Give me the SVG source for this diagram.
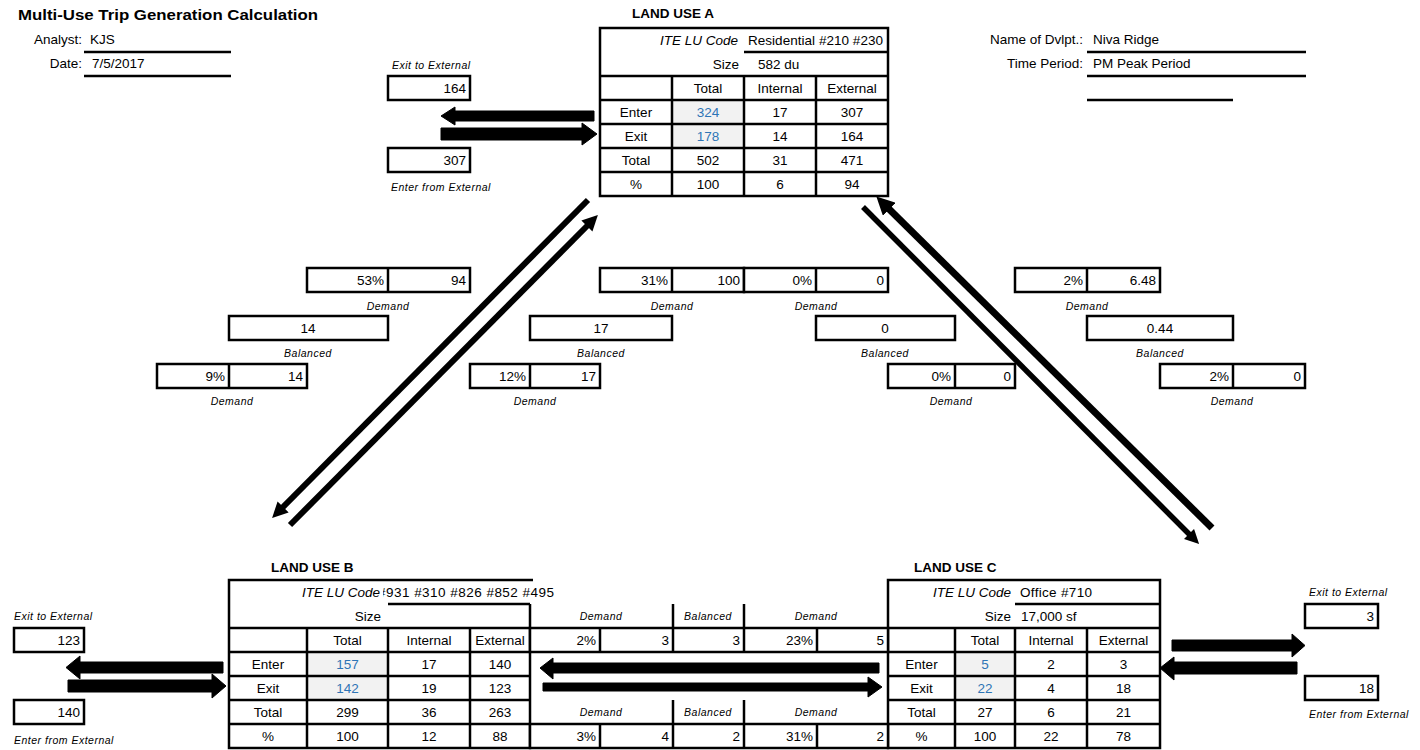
<svg xmlns="http://www.w3.org/2000/svg" width="1420" height="750" viewBox="0 0 1420 750">
<defs>
<style>
text{font-family:"Liberation Sans",Arial,sans-serif;font-size:13.5px;fill:#000}
.b{font-weight:bold}
.c{text-anchor:middle}
.r{text-anchor:end}
.it{font-style:italic}
.lb{font-style:italic;font-size:10.5px;letter-spacing:0.5px}
.blue{fill:#2e75b6}
.ln{stroke:#000;stroke-width:2.5;fill:none}
.bx{fill:#fff;stroke:#000;stroke-width:2.5}
.sh{fill:#f2f2f2;stroke:none}
.ar{fill:#000;stroke:#000;stroke-width:1}
.dg{stroke:#000;stroke-width:6;fill:none;marker-end:url(#ah)}
</style>
<marker id="ah" viewBox="0 0 10 10" refX="1" refY="5" markerWidth="2.6" markerHeight="2.6" markerUnits="strokeWidth" orient="auto"><path d="M0,0L10,5L0,10z" fill="#000"/></marker>
<clipPath id="clipB"><rect x="383" y="580" width="200" height="24"/></clipPath>
</defs>
<rect width="1420" height="750" fill="#fff"/>

<g id="header">
<text class="b" x="18" y="20" style="font-size:14.5px" textLength="300" lengthAdjust="spacingAndGlyphs">Multi-Use Trip Generation Calculation</text>
<text class="r" x="82" y="44">Analyst:</text>
<text x="90" y="44">KJS</text>
<text class="r" x="82" y="68">Date:</text>
<text x="92" y="68">7/5/2017</text>
<line class="ln" x1="84" y1="52" x2="231" y2="52"/>
<line class="ln" x1="84" y1="76" x2="231" y2="76"/>
<text class="r" x="1083" y="44">Name of Dvlpt.:</text>
<text x="1093" y="44">Niva Ridge</text>
<text class="r" x="1083" y="68">Time Period:</text>
<text x="1093" y="68">PM Peak Period</text>
<line class="ln" x1="1087" y1="52" x2="1306" y2="52"/>
<line class="ln" x1="1087" y1="76" x2="1306" y2="76"/>
<line class="ln" x1="1087" y1="100" x2="1233" y2="100"/>
</g>

<g id="land-use-a">
<text class="b" x="632" y="18">LAND USE A</text>
<rect class="sh" x="672" y="100" width="72" height="48"/>
<rect class="ln" x="600" y="28" width="288" height="168"/>
<line class="ln" x1="744" y1="52" x2="888" y2="52"/>
<line class="ln" x1="600" y1="76" x2="888" y2="76"/>
<line class="ln" x1="600" y1="100" x2="888" y2="100"/>
<line class="ln" x1="600" y1="124" x2="888" y2="124"/>
<line class="ln" x1="600" y1="148" x2="888" y2="148"/>
<line class="ln" x1="600" y1="172" x2="888" y2="172"/>
<line class="ln" x1="672" y1="76" x2="672" y2="196"/>
<line class="ln" x1="744" y1="76" x2="744" y2="196"/>
<line class="ln" x1="816" y1="76" x2="816" y2="196"/>
<text class="it r" x="738" y="45">ITE LU Code</text>
<text x="748" y="45" textLength="135">Residential #210 #230</text>
<text class="r" x="739" y="69">Size</text>
<text x="758" y="69">582 du</text>
<text class="c" x="708" y="93">Total</text><text class="c" x="780" y="93">Internal</text><text class="c" x="852" y="93">External</text>
<text class="c" x="636" y="117">Enter</text><text class="c blue" x="708" y="117">324</text><text class="c" x="780" y="117">17</text><text class="c" x="852" y="117">307</text>
<text class="c" x="636" y="141">Exit</text><text class="c blue" x="708" y="141">178</text><text class="c" x="780" y="141">14</text><text class="c" x="852" y="141">164</text>
<text class="c" x="636" y="165">Total</text><text class="c" x="708" y="165">502</text><text class="c" x="780" y="165">31</text><text class="c" x="852" y="165">471</text>
<text class="c" x="636" y="189">%</text><text class="c" x="708" y="189">100</text><text class="c" x="780" y="189">6</text><text class="c" x="852" y="189">94</text>
</g>

<g id="a-exit-external">
<text class="lb" x="392" y="69">Exit to External</text>
<rect class="bx" x="388" y="76" width="82" height="24"/>
<text class="r" x="466" y="93">164</text>
</g>
<g id="a-enter-external">
<rect class="bx" x="388" y="148" width="82" height="24"/>
<text class="r" x="466" y="165">307</text>
<text class="lb" x="391" y="191">Enter from External</text>
</g>

<g id="land-use-b">
<text class="b" x="271" y="572">LAND USE B</text>
<rect class="sh" x="307" y="652" width="81" height="48"/>
<path class="ln" d="M530,604 L530,748 L229,748 L229,580 L533,580"/>
<line class="ln" x1="388" y1="604" x2="530" y2="604"/>
<line class="ln" x1="229" y1="628" x2="530" y2="628"/>
<line class="ln" x1="229" y1="652" x2="530" y2="652"/>
<line class="ln" x1="229" y1="676" x2="530" y2="676"/>
<line class="ln" x1="229" y1="700" x2="530" y2="700"/>
<line class="ln" x1="229" y1="724" x2="530" y2="724"/>
<line class="ln" x1="307" y1="628" x2="307" y2="748"/>
<line class="ln" x1="388" y1="628" x2="388" y2="748"/>
<line class="ln" x1="470" y1="628" x2="470" y2="748"/>
<text class="it r" x="380" y="597">ITE LU Code</text>
<text x="378" y="597" textLength="176" clip-path="url(#clipB)">#931 #310 #826 #852 #495</text>
<text class="r" x="381" y="621">Size</text>
<text class="c" x="347.5" y="645">Total</text><text class="c" x="429" y="645">Internal</text><text class="c" x="500" y="645">External</text>
<text class="c" x="268" y="669">Enter</text><text class="c blue" x="347.5" y="669">157</text><text class="c" x="429" y="669">17</text><text class="c" x="500" y="669">140</text>
<text class="c" x="268" y="693">Exit</text><text class="c blue" x="347.5" y="693">142</text><text class="c" x="429" y="693">19</text><text class="c" x="500" y="693">123</text>
<text class="c" x="268" y="717">Total</text><text class="c" x="347.5" y="717">299</text><text class="c" x="429" y="717">36</text><text class="c" x="500" y="717">263</text>
<text class="c" x="268" y="741">%</text><text class="c" x="347.5" y="741">100</text><text class="c" x="429" y="741">12</text><text class="c" x="500" y="741">88</text>
</g>

<g id="b-exit-external">
<text class="lb" x="14" y="620">Exit to External</text>
<rect class="bx" x="14" y="628" width="70" height="24"/>
<text class="r" x="80" y="645">123</text>
</g>
<g id="b-enter-external">
<rect class="bx" x="14" y="700" width="70" height="24"/>
<text class="r" x="80" y="717">140</text>
<text class="lb" x="14" y="744">Enter from External</text>
</g>

<g id="land-use-c">
<text class="b" x="914" y="572">LAND USE C</text>
<rect class="sh" x="955" y="652" width="60" height="48"/>
<rect class="ln" x="888" y="580" width="272" height="168"/>
<line class="ln" x1="1015" y1="604" x2="1160" y2="604"/>
<line class="ln" x1="888" y1="628" x2="1160" y2="628"/>
<line class="ln" x1="888" y1="652" x2="1160" y2="652"/>
<line class="ln" x1="888" y1="676" x2="1160" y2="676"/>
<line class="ln" x1="888" y1="700" x2="1160" y2="700"/>
<line class="ln" x1="888" y1="724" x2="1160" y2="724"/>
<line class="ln" x1="955" y1="628" x2="955" y2="748"/>
<line class="ln" x1="1015" y1="628" x2="1015" y2="748"/>
<line class="ln" x1="1087" y1="628" x2="1087" y2="748"/>
<text class="it r" x="1011" y="597">ITE LU Code</text>
<text x="1020" y="597" textLength="72">Office #710</text>
<text class="r" x="1011" y="621">Size</text>
<text x="1021" y="621">17,000 sf</text>
<text class="c" x="985" y="645">Total</text><text class="c" x="1051" y="645">Internal</text><text class="c" x="1123.5" y="645">External</text>
<text class="c" x="921.5" y="669">Enter</text><text class="c blue" x="985" y="669">5</text><text class="c" x="1051" y="669">2</text><text class="c" x="1123.5" y="669">3</text>
<text class="c" x="921.5" y="693">Exit</text><text class="c blue" x="985" y="693">22</text><text class="c" x="1051" y="693">4</text><text class="c" x="1123.5" y="693">18</text>
<text class="c" x="921.5" y="717">Total</text><text class="c" x="985" y="717">27</text><text class="c" x="1051" y="717">6</text><text class="c" x="1123.5" y="717">21</text>
<text class="c" x="921.5" y="741">%</text><text class="c" x="985" y="741">100</text><text class="c" x="1051" y="741">22</text><text class="c" x="1123.5" y="741">78</text>
</g>

<g id="c-exit-external">
<text class="lb" x="1309" y="596">Exit to External</text>
<rect class="bx" x="1305" y="604" width="73" height="24"/>
<text class="r" x="1374" y="621">3</text>
</g>
<g id="c-enter-external">
<rect class="bx" x="1305" y="676" width="73" height="24"/>
<text class="r" x="1374" y="693">18</text>
<text class="lb" x="1309" y="718">Enter from External</text>
</g>

<g id="ab-a-demand">
<rect class="bx" x="307" y="268" width="163" height="24"/>
<line class="ln" x1="388" y1="268" x2="388" y2="292"/>
<text class="r" x="384" y="285">53%</text><text class="r" x="466" y="285">94</text>
<text class="lb c" x="388" y="310">Demand</text>
</g>
<g id="ab-balanced">
<rect class="bx" x="229" y="316" width="159" height="24"/>
<text class="c" x="308" y="333">14</text>
<text class="lb c" x="308" y="357">Balanced</text>
</g>
<g id="ab-b-demand">
<rect class="bx" x="157" y="364" width="150" height="24"/>
<line class="ln" x1="229" y1="364" x2="229" y2="388"/>
<text class="r" x="225" y="381">9%</text><text class="r" x="303" y="381">14</text>
<text class="lb c" x="232" y="405">Demand</text>
</g>

<g id="ba-a-demand">
<rect class="bx" x="600" y="268" width="144" height="24"/>
<line class="ln" x1="672" y1="268" x2="672" y2="292"/>
<text class="r" x="668" y="285">31%</text><text class="r" x="740" y="285">100</text>
<text class="lb c" x="672" y="310">Demand</text>
</g>
<g id="ba-balanced">
<rect class="bx" x="530" y="316" width="142" height="24"/>
<text class="c" x="601" y="333">17</text>
<text class="lb c" x="601" y="357">Balanced</text>
</g>
<g id="ba-b-demand">
<rect class="bx" x="470" y="364" width="130" height="24"/>
<line class="ln" x1="530" y1="364" x2="530" y2="388"/>
<text class="r" x="526" y="381">12%</text><text class="r" x="596" y="381">17</text>
<text class="lb c" x="535" y="405">Demand</text>
</g>

<g id="ac-a-demand">
<rect class="bx" x="744" y="268" width="144" height="24"/>
<line class="ln" x1="816" y1="268" x2="816" y2="292"/>
<text class="r" x="812" y="285">0%</text><text class="r" x="884" y="285">0</text>
<text class="lb c" x="816" y="310">Demand</text>
</g>
<g id="ac-balanced">
<rect class="bx" x="816" y="316" width="139" height="24"/>
<text class="c" x="885" y="333">0</text>
<text class="lb c" x="885" y="357">Balanced</text>
</g>
<g id="ac-c-demand">
<rect class="bx" x="888" y="364" width="127" height="24"/>
<line class="ln" x1="955" y1="364" x2="955" y2="388"/>
<text class="r" x="951" y="381">0%</text><text class="r" x="1011" y="381">0</text>
<text class="lb c" x="951" y="405">Demand</text>
</g>

<g id="ca-c-demand">
<rect class="bx" x="1015" y="268" width="145" height="24"/>
<line class="ln" x1="1087" y1="268" x2="1087" y2="292"/>
<text class="r" x="1083" y="285">2%</text><text class="r" x="1156" y="285">6.48</text>
<text class="lb c" x="1087" y="310">Demand</text>
</g>
<g id="ca-balanced">
<rect class="bx" x="1087" y="316" width="146" height="24"/>
<text class="c" x="1160" y="333">0.44</text>
<text class="lb c" x="1160" y="357">Balanced</text>
</g>
<g id="ca-a-demand">
<rect class="bx" x="1160" y="364" width="145" height="24"/>
<line class="ln" x1="1233" y1="364" x2="1233" y2="388"/>
<text class="r" x="1229" y="381">2%</text><text class="r" x="1301" y="381">0</text>
<text class="lb c" x="1232" y="405">Demand</text>
</g>

<g id="bc-top">
<text class="lb c" x="601" y="620">Demand</text>
<text class="lb c" x="708" y="620">Balanced</text>
<text class="lb c" x="816" y="620">Demand</text>
<line class="ln" x1="673" y1="604" x2="673" y2="628"/>
<line class="ln" x1="744" y1="604" x2="744" y2="628"/>
<rect class="bx" x="530" y="628" width="358" height="24"/>
<line class="ln" x1="600" y1="628" x2="600" y2="652"/>
<line class="ln" x1="673" y1="628" x2="673" y2="652"/>
<line class="ln" x1="744" y1="628" x2="744" y2="652"/>
<line class="ln" x1="817" y1="628" x2="817" y2="652"/>
<text class="r" x="596" y="645">2%</text><text class="r" x="669" y="645">3</text><text class="r" x="740" y="645">3</text><text class="r" x="813" y="645">23%</text><text class="r" x="884" y="645">5</text>
</g>
<g id="bc-bottom">
<text class="lb c" x="601" y="716">Demand</text>
<text class="lb c" x="708" y="716">Balanced</text>
<text class="lb c" x="816" y="716">Demand</text>
<line class="ln" x1="673" y1="700" x2="673" y2="724"/>
<line class="ln" x1="744" y1="700" x2="744" y2="724"/>
<rect class="bx" x="530" y="724" width="358" height="24"/>
<line class="ln" x1="600" y1="724" x2="600" y2="748"/>
<line class="ln" x1="673" y1="724" x2="673" y2="748"/>
<line class="ln" x1="744" y1="724" x2="744" y2="748"/>
<line class="ln" x1="817" y1="724" x2="817" y2="748"/>
<text class="r" x="596" y="741">3%</text><text class="r" x="669" y="741">4</text><text class="r" x="740" y="741">2</text><text class="r" x="813" y="741">31%</text><text class="r" x="884" y="741">2</text>
</g>

<g id="connectors">
<path class="ar" d="M441,116 L455,107 L455,111 L594,111 L594,121 L455,121 L455,125 Z"/>
<path class="ar" d="M441,128 L582,128 L582,123 L597,134 L582,145 L582,140 L441,140 Z"/>
<path class="ar" d="M66,667.5 L80,656 L80,662 L223,662 L223,673 L80,673 L80,679 Z"/>
<path class="ar" d="M68,680 L212,680 L212,674 L226,686 L212,698 L212,692 L68,692 Z"/>
<path class="ar" d="M540,668 L553,658 L553,663 L879,663 L879,673 L553,673 L553,679 Z"/>
<path class="ar" d="M543,683 L868,683 L868,677 L882,687 L868,697 L868,691 L543,691 Z"/>
<path class="ar" d="M1172,640 L1292,640 L1292,634 L1305,645.5 L1292,657 L1292,651 L1172,651 Z"/>
<path class="ar" d="M1160,668 L1174,657 L1174,662 L1297,662 L1297,674 L1174,674 L1174,680 Z"/>
<path class="dg" d="M588,200 L282,508"/>
<path class="dg" d="M290,525 L588,225"/>
<path class="dg" d="M1212,528 L888,208" style="stroke-width:7"/>
<path class="dg" d="M863,207 L1190,535" style="stroke-width:5.5"/>
</g>
</svg>
